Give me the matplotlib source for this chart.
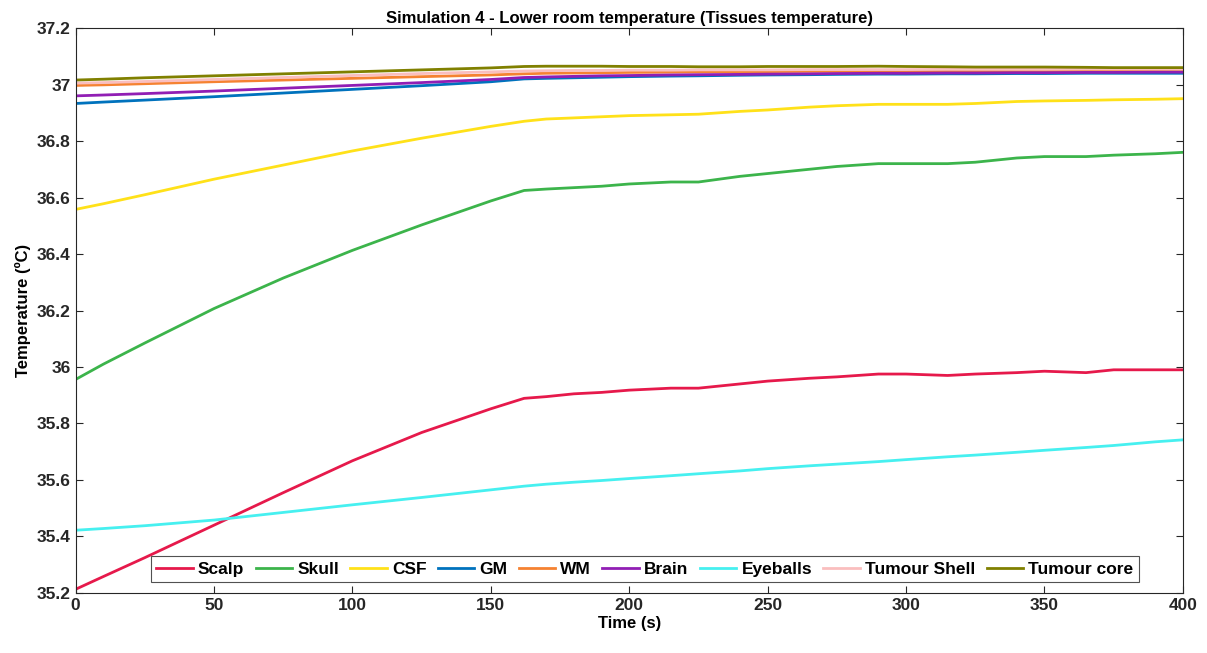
import numpy as np
import matplotlib
matplotlib.use('Agg')
import matplotlib.pyplot as plt

plt.rcParams['font.family'] = ['Liberation Sans', 'DejaVu Sans']
plt.rcParams['font.weight'] = 'bold'

# time points (s)
t = [0, 10, 25, 50, 75, 100, 125, 150, 162, 170, 180, 190, 200, 215, 225, 240, 250,
     265, 275, 290, 300, 315, 325, 340, 350, 365, 375, 390, 400]

scalp = [35.213, 35.258, 35.325, 35.44, 35.555, 35.668, 35.768, 35.852, 35.889, 35.895, 35.905,
         35.91, 35.918, 35.925, 35.925, 35.94, 35.95, 35.96, 35.965, 35.975, 35.975, 35.97,
         35.975, 35.98, 35.985, 35.98, 35.99, 35.99, 35.99]
skull = [35.956, 36.01, 36.085, 36.207, 36.315, 36.413, 36.503, 36.588, 36.625, 36.63, 36.635,
         36.64, 36.648, 36.655, 36.655, 36.675, 36.685, 36.70, 36.71, 36.72, 36.72, 36.72,
         36.725, 36.74, 36.745, 36.745, 36.75, 36.755, 36.76]
csf = [36.558, 36.578, 36.61, 36.665, 36.715, 36.765, 36.81, 36.852, 36.87, 36.878, 36.882,
       36.886, 36.89, 36.893, 36.895, 36.905, 36.91, 36.92, 36.925, 36.93, 36.93, 36.93,
       36.933, 36.94, 36.942, 36.944, 36.946, 36.948, 36.95]
gm = [36.933, 36.938, 36.945, 36.957, 36.97, 36.983, 36.996, 37.01, 37.02, 37.022, 37.024,
      37.026, 37.028, 37.03, 37.031, 37.033, 37.034, 37.035, 37.036, 37.037, 37.037, 37.038,
      37.038, 37.039, 37.039, 37.04, 37.04, 37.04, 37.04]
wm = [36.997, 36.999, 37.003, 37.01, 37.016, 37.022, 37.028, 37.034, 37.038, 37.04, 37.041,
      37.042, 37.043, 37.044, 37.045, 37.046, 37.046, 37.047, 37.047, 37.048, 37.048, 37.048,
      37.049, 37.049, 37.049, 37.05, 37.05, 37.05, 37.05]
brain = [36.96, 36.963, 36.968, 36.977, 36.987, 36.997, 37.007, 37.018, 37.025, 37.027, 37.029,
         37.031, 37.032, 37.034, 37.035, 37.036, 37.037, 37.038, 37.039, 37.04, 37.04, 37.041,
         37.041, 37.042, 37.042, 37.043, 37.043, 37.044, 37.044]
eyeballs = [35.422, 35.428, 35.438, 35.458, 35.485, 35.512, 35.538, 35.565, 35.578, 35.585, 35.592,
            35.598, 35.605, 35.615, 35.622, 35.632, 35.64, 35.65, 35.656, 35.665, 35.672,
            35.682, 35.688, 35.698, 35.705, 35.715, 35.722, 35.735, 35.742]
shell = [37.005, 37.007, 37.011, 37.018, 37.025, 37.032, 37.039, 37.045, 37.048, 37.049, 37.05,
         37.05, 37.051, 37.051, 37.052, 37.052, 37.052, 37.053, 37.053, 37.053, 37.053, 37.054,
         37.054, 37.054, 37.054, 37.055, 37.055, 37.055, 37.055]
core = [37.016, 37.019, 37.024, 37.031, 37.038, 37.045, 37.052, 37.059, 37.064, 37.065, 37.065,
        37.065, 37.064, 37.064, 37.063, 37.063, 37.064, 37.064, 37.064, 37.065, 37.064, 37.063,
        37.062, 37.062, 37.062, 37.061, 37.06, 37.06, 37.06]

names = ['Scalp', 'Skull', 'CSF', 'GM', 'WM', 'Brain', 'Eyeballs', 'Tumour Shell', 'Tumour core']
series = [scalp, skull, csf, gm, wm, brain, eyeballs, shell, core]
colors = ['#e6194b', '#3cb44b', '#ffe119', '#0072bd', '#f58231', '#911eb4',
          '#46f0f0', '#fabebe', '#808000']

fig = plt.figure(figsize=(12.07, 6.53), dpi=100)
ax = fig.add_axes([0.0627, 0.092, 0.9173, 0.865])

for y, c, n in zip(series, colors, names):
    ax.plot(t, y, color=c, lw=2, label=n)

ax.set_xlim(0, 400)
ax.set_ylim(35.2, 37.2)
ax.set_xticks(np.arange(0, 401, 50))
ax.set_yticks(np.arange(35.2, 37.21, 0.2))
ax.set_yticklabels(['35.2', '35.4', '35.6', '35.8', '36', '36.2', '36.4', '36.6', '36.8', '37', '37.2'])
ax.tick_params(direction='in', top=True, right=True, length=5, width=0.8,
               colors='#262626', labelsize=12.5)
for lab in ax.get_xticklabels() + ax.get_yticklabels():
    lab.set_fontweight('bold')
for s in ax.spines.values():
    s.set_color('#262626')
    s.set_linewidth(0.8)

ax.set_xlabel('Time (s)', fontsize=12, fontweight='bold', labelpad=2)
ax.set_ylabel('Temperature (ºC)', fontsize=12, fontweight='bold', labelpad=4)
ax.set_title('Simulation 4 - Lower room temperature (Tissues temperature)',
             fontsize=12, fontweight='bold', pad=4)

leg = ax.legend(loc='lower center', ncol=9, bbox_to_anchor=(0.514, 0.01), fancybox=False,
                fontsize=12.5, handlelength=2.1, handletextpad=0.3, columnspacing=0.65,
                borderpad=0.3, borderaxespad=0.3)
leg.get_frame().set_edgecolor('#262626')
leg.get_frame().set_linewidth(0.8)
for txt in leg.get_texts():
    txt.set_fontweight('bold')

fig.savefig('out.png', dpi=100)
